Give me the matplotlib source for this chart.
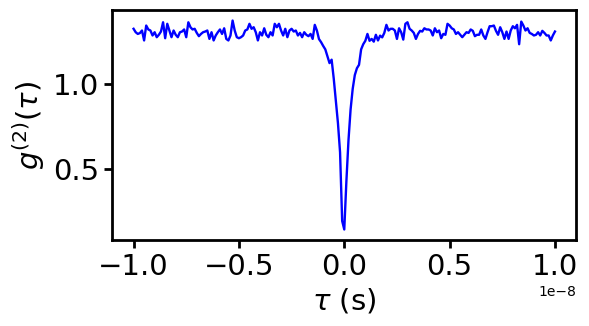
import numpy as np
import matplotlib
matplotlib.use("Agg")
import matplotlib.pyplot as plt

# lag index k (tau = k * 0.1 ns), k = -100 .. 100
lag_index = np.arange(-100, 101)
bin_width_s = 1e-10

g2_left = [
    1.32, 1.30, 1.29, 1.295, 1.31, 1.252, 1.339, 1.316, 1.31, 1.281,
    1.30, 1.271, 1.285, 1.304, 1.358, 1.265, 1.349, 1.31, 1.271, 1.31,
    1.285, 1.271, 1.30, 1.304, 1.316, 1.271, 1.358, 1.329, 1.316, 1.32,
    1.296, 1.277, 1.29, 1.30, 1.304, 1.31, 1.261, 1.30, 1.252, 1.281,
    1.30, 1.316, 1.29, 1.323, 1.261, 1.252, 1.281, 1.368, 1.31, 1.271,
    1.265, 1.271, 1.281, 1.31, 1.316, 1.349, 1.32, 1.329, 1.30, 1.252,
    1.30, 1.281, 1.323, 1.285, 1.271, 1.30, 1.281, 1.349, 1.329, 1.349,
    1.31, 1.281, 1.32, 1.271, 1.31, 1.32, 1.304, 1.31, 1.281, 1.296,
    1.271, 1.30, 1.285, 1.277, 1.29, 1.261, 1.343, 1.31, 1.26, 1.242,
]  # k = -100 .. -11

g2_dip = [
    1.22, 1.20, 1.16, 1.12, 1.14, 1.03, 0.90, 0.77, 0.60, 0.20,
    0.15,
    0.43, 0.67, 0.85, 0.97, 1.05, 1.09, 1.11, 1.20, 1.23, 1.25,
    1.29, 1.25,
]  # k = -10 .. 12

g2_right = [
    1.261, 1.245, 1.285, 1.252, 1.28, 1.27, 1.296, 1.343, 1.31, 1.32,
    1.32, 1.31, 1.261, 1.323, 1.30, 1.257, 1.349, 1.358, 1.32, 1.31,
    1.296, 1.261, 1.29, 1.308, 1.304, 1.323, 1.316, 1.316, 1.31, 1.281,
    1.323, 1.30, 1.31, 1.265, 1.29, 1.285, 1.349, 1.339, 1.323, 1.316,
    1.29, 1.30, 1.285, 1.271, 1.286, 1.30, 1.296, 1.316, 1.308, 1.277,
    1.285, 1.285, 1.316, 1.281, 1.261, 1.30, 1.335, 1.335, 1.339, 1.308,
    1.285, 1.329, 1.30, 1.261, 1.304, 1.261, 1.31, 1.335, 1.323, 1.343,
    1.23, 1.362, 1.339, 1.31, 1.323, 1.296, 1.29, 1.281, 1.285, 1.30,
    1.281, 1.308, 1.296, 1.281, 1.281, 1.252, 1.281, 1.304,
]  # k = 13 .. 100

g2 = np.array(g2_left + g2_dip + g2_right)
tau = lag_index * bin_width_s

fig = plt.figure(figsize=(5.89, 3.26), dpi=100)
ax = fig.add_axes([0.191, 0.264, 0.787, 0.705])
ax.plot(tau, g2, color="blue", linewidth=1.7)

ax.set_xlabel(r"$\tau$ (s)", fontsize=21)
ax.set_ylabel(r"$g^{(2)}(\tau)$", fontsize=21)
ax.set_yticks([0.5, 1.0])
ax.tick_params(labelsize=21, width=2, length=6)
for s in ax.spines.values():
    s.set_linewidth(2)
ax.xaxis.get_offset_text().set_fontsize(10)

fig.savefig("out.png", dpi=100)
